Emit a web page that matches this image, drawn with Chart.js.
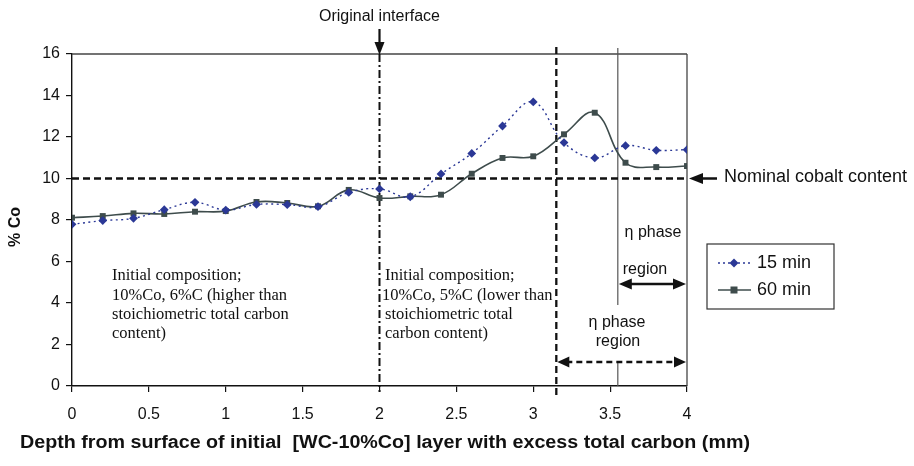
<!DOCTYPE html>
<html>
<head>
<meta charset="utf-8">
<script src="https://cdn.jsdelivr.net/npm/chart.js@4/dist/chart.umd.min.js"></script>
<style>
html,body{margin:0;padding:0;background:#fff;}
#wrap{width:914px;height:466px;position:relative;}
</style>
</head>
<body>
<div id="wrap"><canvas id="c" width="914" height="466"></canvas></div>
<script>
const depth = [0,0.2,0.4,0.6,0.8,1.0,1.2,1.4,1.6,1.8,2.0,2.2,2.4,2.6,2.8,3.0,3.2,3.4,3.6,3.8,4.0];
const co15 = [7.79,7.97,8.08,8.50,8.85,8.48,8.75,8.74,8.64,9.33,9.50,9.12,10.22,11.21,12.53,13.69,11.73,10.99,11.58,11.36,11.39];
const co60 = [8.11,8.19,8.32,8.29,8.40,8.43,8.87,8.82,8.66,9.45,9.06,9.14,9.22,10.23,10.99,11.07,12.13,13.17,10.76,10.55,10.60];
const xTicks = [0,0.5,1,1.5,2,2.5,3,3.5,4];
const yTicks = [0,2,4,6,8,10,12,14,16];
const seriesNames = ['15 min','60 min'];
const nominalCo = 10;
const interfaceX = 2;
const etaStart60 = 3.15;
const etaStart15 = 3.55;

const C15 = '#2b3896';
const C60 = '#3e4c4c';
const SANS = '"Liberation Sans", Arial, sans-serif';
const SERIF = '"Liberation Serif", "Times New Roman", serif';

function arrowHead(ctx, x, y, dir, len, half){
  ctx.beginPath();
  if(dir==='down'){ctx.moveTo(x,y);ctx.lineTo(x-half,y-len);ctx.lineTo(x+half,y-len);}
  else if(dir==='left'){ctx.moveTo(x,y);ctx.lineTo(x+len,y-half);ctx.lineTo(x+len,y+half);}
  else if(dir==='right'){ctx.moveTo(x,y);ctx.lineTo(x-len,y-half);ctx.lineTo(x-len,y+half);}
  ctx.closePath();ctx.fill();
}

const annot = {
  id:'annot',
  beforeDatasetsDraw(chart){
    const ctx = chart.ctx, xs = chart.scales.x, ys = chart.scales.y;
    const L = xs.getPixelForValue(0), R = xs.getPixelForValue(4);
    const T = ys.getPixelForValue(16), B = ys.getPixelForValue(0);
    ctx.save();
    ctx.strokeStyle = '#444'; ctx.lineWidth = 1.3; ctx.setLineDash([]);
    ctx.beginPath(); ctx.moveTo(L,T); ctx.lineTo(R,T); ctx.stroke();
    ctx.beginPath(); ctx.moveTo(R,T); ctx.lineTo(R,B); ctx.stroke();
    const xe = xs.getPixelForValue(etaStart15);
    ctx.strokeStyle = '#555'; ctx.lineWidth = 1.2;
    ctx.beginPath(); ctx.moveTo(xe,T-6); ctx.lineTo(xe,305); ctx.stroke();
    ctx.beginPath(); ctx.moveTo(xe,362); ctx.lineTo(xe,B); ctx.stroke();
    const yn = ys.getPixelForValue(nominalCo);
    ctx.strokeStyle = '#111'; ctx.lineWidth = 2.3; ctx.setLineDash([7,4]);
    ctx.beginPath(); ctx.moveTo(L,yn); ctx.lineTo(R,yn); ctx.stroke();
    const xd = xs.getPixelForValue(etaStart60);
    ctx.beginPath(); ctx.moveTo(xd,T-7); ctx.lineTo(xd,B+12); ctx.stroke();
    const xi = xs.getPixelForValue(interfaceX);
    ctx.lineWidth = 2; ctx.setLineDash([8,3,2,3]);
    ctx.beginPath(); ctx.moveTo(xi,T); ctx.lineTo(xi,B+6); ctx.stroke();
    ctx.restore();
  },
  afterDraw(chart){
    const ctx = chart.ctx, xs = chart.scales.x, ys = chart.scales.y;
    const R = xs.getPixelForValue(4);
    const T = ys.getPixelForValue(16);
    ctx.save();
    ctx.fillStyle = '#111'; ctx.strokeStyle = '#111';
    const xi = xs.getPixelForValue(interfaceX);
    ctx.font = '16px ' + SANS; ctx.textAlign = 'center'; ctx.textBaseline = 'middle';
    ctx.fillText('Original interface', xi, 17);
    ctx.lineWidth = 2.2; ctx.setLineDash([]);
    ctx.beginPath(); ctx.moveTo(xi,29); ctx.lineTo(xi,44); ctx.stroke();
    arrowHead(ctx, xi, T+1, 'down', 13, 5);
    const yn = ys.getPixelForValue(nominalCo);
    ctx.lineWidth = 2.5;
    ctx.beginPath(); ctx.moveTo(717,yn); ctx.lineTo(700,yn); ctx.stroke();
    arrowHead(ctx, R+2, yn, 'left', 14, 5.5);
    ctx.font = '18px ' + SANS; ctx.textAlign = 'left';
    ctx.fillText('Nominal cobalt content', 724, yn-1);
    ctx.font = '16.5px ' + SERIF; ctx.textAlign = 'left';
    const n1 = ['Initial composition;','10%Co, 6%C (higher than','stoichiometric total carbon','content)'];
    n1.forEach((s,i)=>ctx.fillText(s, 112, 276 + i*19.3));
    const n2 = ['Initial composition;','10%Co, 5%C (lower than','stoichiometric total','carbon content)'];
    n2.forEach((s,i)=>ctx.fillText(s, i===1?382:385, 276 + i*19.3));
    const xe = xs.getPixelForValue(etaStart15);
    const xd = xs.getPixelForValue(etaStart60);
    ctx.font = '16px ' + SANS; ctx.textAlign = 'center';
    ctx.fillText('\u03b7 phase', 653, 233);
    ctx.fillText('region', 645, 270);
    ctx.fillText('\u03b7 phase', 617, 323);
    ctx.fillText('region', 618, 342);
    ctx.lineWidth = 2.5; ctx.setLineDash([]);
    ctx.beginPath(); ctx.moveTo(xe+10,284); ctx.lineTo(R-10,284); ctx.stroke();
    arrowHead(ctx, xe+1, 284, 'left', 13, 5.5);
    arrowHead(ctx, R-1, 284, 'right', 13, 5.5);
    ctx.lineWidth = 2.3; ctx.setLineDash([6,4]);
    ctx.beginPath(); ctx.moveTo(xd+10,362); ctx.lineTo(R-10,362); ctx.stroke();
    ctx.setLineDash([]);
    arrowHead(ctx, xd+1, 362, 'left', 12, 5.5);
    arrowHead(ctx, R-1, 362, 'right', 12, 5.5);
    // axis titles
    ctx.font = 'bold 17.5px ' + SANS; ctx.textAlign = 'center';
    const xt = 'Depth from surface of initial  [WC-10%Co] layer with excess total carbon (mm)';
    const w = ctx.measureText(xt).width;
    ctx.save(); ctx.translate(385,443); ctx.scale(730/w,1); ctx.fillText(xt,0,0); ctx.restore();
    ctx.font = 'bold 16px ' + SANS;
    ctx.save(); ctx.translate(16,227); ctx.rotate(-Math.PI/2);
    ctx.fillText('% Co', 0, 0); ctx.restore();
    // legend
    ctx.strokeStyle = '#333'; ctx.lineWidth = 1.2;
    ctx.strokeRect(707,244,127,65);
    const ds = chart.data.datasets;
    [263,290].forEach((yy,i)=>{
      const d = ds[i];
      ctx.strokeStyle = d.borderColor; ctx.lineWidth = 1.5;
      ctx.setLineDash(i===0?[2,3]:[]);
      ctx.beginPath(); ctx.moveTo(718,yy); ctx.lineTo(751,yy); ctx.stroke();
      ctx.setLineDash([]);
      ctx.fillStyle = d.pointBackgroundColor;
      if(i===0){ ctx.beginPath(); ctx.moveTo(734,yy-4.5); ctx.lineTo(738.5,yy); ctx.lineTo(734,yy+4.5); ctx.lineTo(729.5,yy); ctx.closePath(); ctx.fill(); }
      else { ctx.fillRect(730.5,yy-3.5,7,7); }
      ctx.fillStyle = '#111'; ctx.font = '18px ' + SANS; ctx.textAlign = 'left';
      ctx.fillText(seriesNames[i], 757, yy);
    });
    ctx.restore();
  }
};

new Chart(document.getElementById('c'), {
  type:'line',
  data:{
    datasets:[
      {label:seriesNames[0], data:depth.map((x,i)=>({x, y:co15[i]})), borderColor:C15, backgroundColor:C15,
       pointBackgroundColor:C15, pointBorderColor:C15, borderWidth:1.4, borderDash:[2,3.5], pointStyle:'rectRot',
       pointRadius:4.4, pointBorderWidth:0, tension:0.4, fill:false},
      {label:seriesNames[1], data:depth.map((x,i)=>({x, y:co60[i]})), borderColor:C60, backgroundColor:C60,
       pointBackgroundColor:C60, pointBorderColor:C60, borderWidth:1.6, pointStyle:'rect',
       pointRadius:4.2, pointBorderWidth:0, tension:0.4, fill:false}
    ]
  },
  options:{
    responsive:false, animation:false, devicePixelRatio:1,
    layout:{padding:{left:0, top:54, right:227, bottom:0}},
    plugins:{legend:{display:false}, tooltip:{enabled:false}},
    scales:{
      x:{type:'linear', min:0, max:4,
        afterBuildTicks:(s)=>{s.ticks = xTicks.map(v=>({value:v}));},
        afterFit:(s)=>{s.height = 80;},
        ticks:{color:'#111', font:{size:16, family:SANS}, padding:13, maxRotation:0, autoSkip:false,
          callback:(v)=>String(v)},
        grid:{display:true, drawOnChartArea:false, drawTicks:true, tickLength:6, color:'#111', lineWidth:1.2},
        border:{display:true, color:'#111', width:1.4}
      },
      y:{type:'linear', min:0, max:16,
        afterBuildTicks:(s)=>{s.ticks = yTicks.map(v=>({value:v}));},
        afterFit:(s)=>{s.width = 72;},
        ticks:{color:'#111', font:{size:16, family:SANS}, padding:6, autoSkip:false},
        grid:{display:true, drawOnChartArea:false, drawTicks:true, tickLength:6, color:'#111', lineWidth:1.2},
        border:{display:true, color:'#111', width:1.4}
      }
    }
  },
  plugins:[annot]
});
</script>
</body>
</html>
